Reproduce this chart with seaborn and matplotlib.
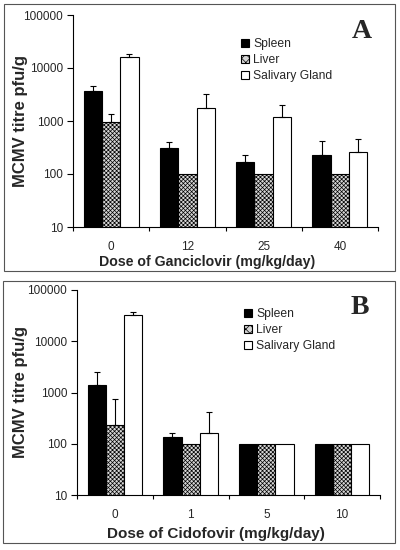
import numpy as np
import pandas as pd
import matplotlib
matplotlib.use("Agg")
import matplotlib.pyplot as plt
from matplotlib.patches import Rectangle
import seaborn as sns

# ---------------- data ----------------
tissues = ["Spleen", "Liver", "Salivary Gland"]

doses_a = ["0", "12", "25", "40"]
spleen_a = [3680, 305, 166, 232]
liver_a = [970, 100, 100, 100]
sg_a = [15900, 1780, 1210, 263]
spleen_a_hi = [4570, 396, 225, 414]
liver_a_hi = [1340, 100, 100, 100]
sg_a_hi = [18100, 3230, 1980, 452]

doses_b = ["0", "1", "5", "10"]
spleen_b = [1371, 133, 100, 100]
liver_b = [232, 100, 100, 100]
sg_b = [32800, 162, 100, 100]
spleen_b_hi = [2470, 165, 100, 100]
liver_b_hi = [740, 100, 100, 100]
sg_b_hi = [37600, 411, 100, 100]

ytick_vals = [10, 100, 1000, 10000, 100000]
ytick_labels = ["10", "100", "1000", "10000", "100000"]

sns.set_theme(style="white")
plt.rcParams["font.family"] = ["Liberation Sans", "DejaVu Sans"]
plt.rcParams["hatch.color"] = "#707070"
plt.rcParams["hatch.linewidth"] = 0.5

W, H = 400, 550
fig = plt.figure(figsize=(4.0, 5.5), dpi=100)

def make_df(doses, s, l, g, sh, lh, gh):
    rows = []
    for vals, his, t in ((s, sh, tissues[0]), (l, lh, tissues[1]), (g, gh, tissues[2])):
        for d, v, h in zip(doses, vals, his):
            rows.append({"dose": d, "tissue": t, "value": v, "hi": h})
    return pd.DataFrame(rows)

face = {"Spleen": "black", "Liver": "#d6d6d6", "Salivary Gland": "white"}
HATCH = "xxxxxxxx"

def panel(px, df, doses, xlabel, xl_size, xl_center, xl_top, letter, letter_pos, legend_anchor):
    left, right, top, bottom = px
    ax = fig.add_axes([left / W, 1 - bottom / H, (right - left) / W, (bottom - top) / H])
    ax.set_yscale("log")
    sns.barplot(data=df, x="dose", y="value", hue="tissue", order=doses,
                hue_order=tissues, palette=face, errorbar=None, width=0.72,
                gap=0, edgecolor="black", linewidth=0.8, ax=ax, legend=True)
    for cont, t in zip(ax.containers, tissues):
        sub = df[df.tissue == t].set_index("dose").loc[doses]
        for bar, v, h in zip(cont.patches, sub["value"], sub["hi"]):
            bar.set_facecolor(face[t])
            bar.set_edgecolor("black")
            if t == "Liver":
                bar.set_hatch(HATCH)
            if h > v:
                xc = bar.get_x() + bar.get_width() / 2
                ax.errorbar([xc], [v], yerr=[[0], [h - v]], fmt="none",
                            ecolor="black", elinewidth=0.8, capsize=2.5,
                            capthick=0.8, zorder=3)
    ax.set_ylim(10, 100000)
    ax.set_xlim(-0.5, len(doses) - 0.5)
    ax.set_yticks(ytick_vals)
    ax.set_yticklabels(ytick_labels, fontsize=8.5)
    ax.yaxis.set_minor_locator(matplotlib.ticker.NullLocator())
    ax.set_xticks(range(len(doses)))
    ax.set_xticklabels(doses, fontsize=8.5)
    ax.set_xticks(np.arange(-0.5, len(doses)), minor=True)
    ax.tick_params(axis="x", which="major", length=0, pad=10)
    ax.tick_params(axis="x", which="minor", length=3, width=0.8, color="black", bottom=True)
    ax.tick_params(axis="y", which="major", length=4, width=0.8, color="black", left=True, pad=3)
    for s in ("top", "right"):
        ax.spines[s].set_visible(False)
    for s in ("left", "bottom"):
        ax.spines[s].set_color("black")
        ax.spines[s].set_linewidth(0.8)
    ax.set_xlabel(xlabel, fontsize=xl_size, fontweight="bold")
    ax.xaxis.set_label_coords((xl_center - left) / (right - left),
                              -(xl_top - bottom) / (bottom - top))
    ax.set_ylabel("MCMV titre pfu/g", fontsize=12, fontweight="bold")
    ax.yaxis.set_label_coords(-(left - 28) / (right - left), 0.5)
    ax.set_facecolor("none")
    handles, labels = ax.get_legend_handles_labels()
    for hnd, t in zip(handles, labels):
        hnd.set_facecolor(face[t])
        hnd.set_edgecolor("black")
        hnd.set_linewidth(0.8)
        if t == "Liver":
            hnd.set_hatch("xxxx")
    ax.legend(handles, labels, loc="upper left",
              bbox_to_anchor=(legend_anchor[0] / W, 1 - legend_anchor[1] / H),
              bbox_transform=fig.transFigure, frameon=False, fontsize=8.7,
              handlelength=0.7, handleheight=0.7, handletextpad=0.3,
              labelspacing=0.35, borderpad=0, borderaxespad=0)
    fig.text(letter_pos[0] / W, 1 - letter_pos[1] / H, letter, fontsize=20, fontweight="bold",
             family=["Liberation Serif", "DejaVu Serif"], ha="center", va="center")
    return ax

df_a = make_df(doses_a, spleen_a, liver_a, sg_a, spleen_a_hi, liver_a_hi, sg_a_hi)
df_b = make_df(doses_b, spleen_b, liver_b, sg_b, spleen_b_hi, liver_b_hi, sg_b_hi)

panel((73, 378, 15, 227), df_a, doses_a, "Dose of Ganciclovir (mg/kg/day)", 10.2, 207, 255,
      "A", (362, 32), (241, 38))
panel((77, 380, 290, 495), df_b, doses_b, "Dose of Cidofovir (mg/kg/day)", 11.0, 216, 527,
      "B", (360, 308), (244, 308))

# panel frames
for (x0, y0, x1, y1) in ((4, 4, 395, 271), (3, 281, 395, 543)):
    fig.add_artist(Rectangle((x0 / W, 1 - y1 / H), (x1 - x0) / W, (y1 - y0) / H,
                             transform=fig.transFigure, fill=False,
                             edgecolor="#555555", linewidth=0.8))

fig.savefig("out.png", dpi=100)
